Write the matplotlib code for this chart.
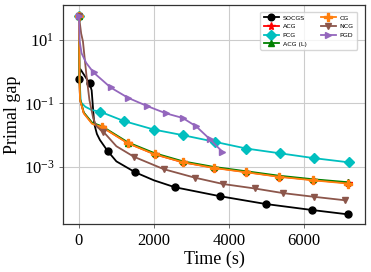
import numpy as np
import matplotlib
matplotlib.use("Agg")
import matplotlib.pyplot as plt

plt.rcParams['font.family'] = ['Liberation Serif', 'DejaVu Serif']
plt.rcParams['mathtext.fontset'] = 'stix'

# time (s) and primal gap
t_socgs = [0, 40, 285, 340, 408, 480, 560, 765, 1000, 1502, 2000, 2560, 3760, 4987, 6222, 7190]
gap_socgs = [0.59, 1.2, 0.43, 0.26, 0.023, 0.011, 0.0071, 0.0032, 0.0015, 6.8e-4, 3.8e-4,
             2.3e-4, 1.2e-4, 6.8e-5, 4.4e-5, 3.2e-5]
mk_socgs = [0, 2, 7, 9, 11, 12, 13, 14, 15]

t_cg = [0, 15, 30, 130, 350, 620, 1315, 2027, 2782, 3609, 4471, 5342, 6249, 7191]
gap_cg = [58, 0.63, 0.13, 0.049, 0.023, 0.018, 0.0055, 0.0025, 0.0014, 9.3e-4, 6.8e-4,
          4.9e-4, 3.8e-4, 3.0e-4]
mk_cg = [0, 5, 6, 7, 8, 9, 10, 11, 12, 13]

t_acg = t_cg
gap_acg = [58, 0.63, 0.13, 0.05, 0.024, 0.018, 0.0056, 0.0025, 0.0014, 9.5e-4, 6.9e-4,
           5.0e-4, 3.9e-4, 3.1e-4]
mk_acg = mk_cg

t_acgl = t_cg
gap_acgl = [58, 0.66, 0.14, 0.052, 0.025, 0.019, 0.0059, 0.0027, 0.0015, 1.0e-3, 7.3e-4,
            5.3e-4, 4.1e-4, 3.3e-4]
mk_acgl = mk_cg

t_pcg = [0, 15, 50, 170, 345, 570, 1200, 2008, 2782, 3627, 4471, 5360, 6267, 7200]
gap_pcg = [58, 0.63, 0.11, 0.079, 0.062, 0.055, 0.028, 0.015, 0.010, 0.0062, 0.0038,
           0.0027, 0.0019, 0.0014]
mk_pcg = [0, 5, 6, 7, 8, 9, 10, 11, 12, 13]

t_ncg = [0, 60, 107, 200, 280, 380, 470, 650, 1000, 1467, 2267, 3093, 3849, 4693, 5449, 6267, 7111]
gap_ncg = [58, 16, 9.1, 0.79, 0.13, 0.035, 0.019, 0.013, 0.0045, 0.0021, 8.5e-4, 4.6e-4,
           2.9e-4, 2.1e-4, 1.5e-4, 1.15e-4, 8.9e-5]
mk_ncg = [0, 7, 9, 10, 11, 12, 13, 14, 15, 16]

t_pgd = [0, 20, 72, 195, 390, 845, 1315, 1822, 2320, 2770, 3130, 3500, 3831]
gap_pgd = [58, 9.1, 3.8, 1.9, 0.95, 0.32, 0.15, 0.083, 0.049, 0.035, 0.019, 0.0074, 0.003]
mk_pgd = [0, 4, 5, 6, 7, 8, 9, 10, 11, 12]

series = [
    ("SOCGS", t_socgs, gap_socgs, mk_socgs, "black", "o", 5),
    ("ACG", t_acg, gap_acg, mk_acg, "red", "*", 6),
    ("PCG", t_pcg, gap_pcg, mk_pcg, "c", "D", 5),
    ("ACG (L)", t_acgl, gap_acgl, mk_acgl, "green", "^", 5),
    ("CG", t_cg, gap_cg, mk_cg, "#ff7f0e", "P", 6),
    ("NCG", t_ncg, gap_ncg, mk_ncg, "#8c564b", "v", 5),
    ("PGD", t_pgd, gap_pgd, mk_pgd, "#9467bd", ">", 5),
]

fig = plt.figure(figsize=(3.71, 2.72), dpi=100)
ax = fig.add_axes([0.171, 0.176, 0.812, 0.804])

for name, t, g, mk, col, m, ms in series:
    ax.plot(t, g, color=col, marker=m, markersize=ms, markevery=mk, lw=1.3, label=name)

ax.set_yscale('log')
ax.set_xlim(-413, 7627)
ax.set_ylim(1.58e-5, 123)
ax.set_xticks([0, 2000, 4000, 6000])
ax.set_yticks([1e1, 1e-1, 1e-3])
ax.yaxis.set_minor_locator(matplotlib.ticker.NullLocator())
ax.tick_params(labelsize=12, length=3, width=0.6, color='#555555')
ax.grid(True, color='#cccccc', lw=0.8)
ax.set_axisbelow(True)
for s in ax.spines.values():
    s.set_color('#333333')
    s.set_linewidth(0.9)

ax.set_xlabel('Time (s)', fontsize=13, labelpad=1)
ax.set_ylabel('Primal gap', fontsize=13, labelpad=2)

ax.legend(loc='upper right', ncol=2, prop={'family': 'DejaVu Sans', 'size': 4.6},
          handlelength=2.4, markerscale=0.95, columnspacing=2.2, labelspacing=0.5,
          borderpad=0.5, handletextpad=0.6, bbox_to_anchor=(0.985, 0.985))

fig.savefig('out.png', dpi=100)
